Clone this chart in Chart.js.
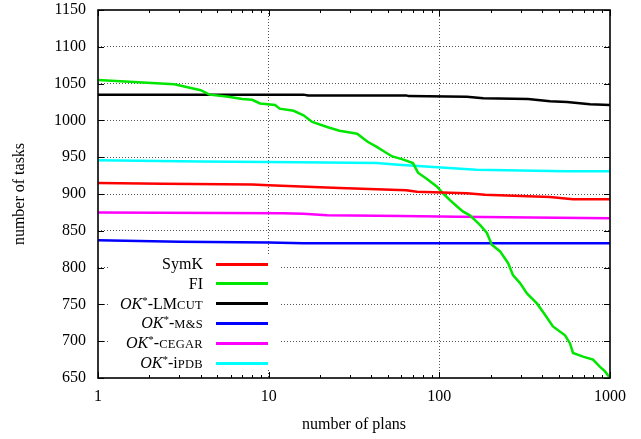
<!DOCTYPE html>
<html>
<head>
<meta charset="utf-8">
<script src="https://cdn.jsdelivr.net/npm/chart.js@4.4.1/dist/chart.umd.min.js"></script>
<style>
html, body { margin: 0; padding: 0; background: #fff; }
#wrap { position: relative; width: 641px; height: 439px; }
#key { position: absolute; left: 110px; top: 254px; width: 170px; height: 116px; background: #fff;
  font: 16px "Liberation Serif", serif; color: #000; }
#key .lbl { position: absolute; left: 0; width: 93px; text-align: right; line-height: 20px; white-space: nowrap; }
#key .smp { position: absolute; left: 106px; width: 52px; height: 3px; }
.sc { font-size: 12.5px; letter-spacing: 0.3px; }
sup { font-size: 11px; vertical-align: 5px; line-height: 0; }
</style>
</head>
<body>
<div id="wrap">
  <canvas id="plot" width="641" height="439"></canvas>
  <div id="key"></div>
</div>
<script>
// x = number of plans, y = number of tasks solved
var symkX = [1, 2.4, 8, 10, 16.8, 26, 64, 74, 145, 185, 331, 445, 606, 1000];
var symkY = [915, 914, 913, 912, 910, 908, 905, 903, 901, 899, 897, 896, 893, 893];

var fiX = [1, 2.8, 4, 4.5, 5.8, 7, 8, 8.9, 10.9, 11.6, 14, 16, 18, 22, 26, 33, 38, 43, 48, 53,
  61, 70, 75, 85, 97, 105, 115, 127, 138, 151, 173, 190, 203, 227, 253, 270, 297, 326, 374,
  416, 463, 545, 583, 607, 695, 795, 874, 935, 1000];
var fiY = [1055, 1049, 1041, 1035, 1032, 1029, 1028, 1023, 1021, 1016, 1013, 1007, 998, 991, 986,
  982, 971, 964, 957, 951, 947, 942, 929, 920, 910, 901, 892, 883, 876, 871, 858, 847, 831, 822,
  806, 790, 779, 765, 751, 736, 720, 708, 697, 684, 679, 675, 665, 659, 650];

var lmcutX = [1, 16, 17, 64, 66, 145, 181, 331, 445, 560, 763, 1000];
var lmcutY = [1035, 1035, 1034, 1034, 1033, 1032, 1030, 1029, 1026, 1025, 1022, 1021];

var msX = [1, 3, 10, 16, 1000];
var msY = [837, 835, 834, 833, 833];

var cegarX = [1, 12, 16, 22, 60, 130, 350, 1000];
var cegarY = [875, 874, 873, 871, 870, 869, 868, 867];

var ipdbX = [1, 4, 15, 43, 55, 75, 120, 165, 300, 550, 1000];
var ipdbY = [946, 944, 943, 942, 940, 938, 935, 933, 932, 931, 931];

var seriesNames = ['SymK', 'FI', 'OK*-LMcut', 'OK*-M&S', 'OK*-CEGAR', 'OK*-iPDB'];
var seriesLabelsHtml = [
  'SymK',
  'FI',
  '<i>OK</i><sup>*</sup>-LM<span class="sc">CUT</span>',
  '<i>OK</i><sup>*</sup>-<span class="sc">M&amp;S</span>',
  '<i>OK</i><sup>*</sup>-<span class="sc">CEGAR</span>',
  '<i>OK</i><sup>*</sup>-i<span class="sc">PDB</span>'
];
var seriesColors = ['#ff0000', '#00e600', '#000000', '#0000ff', '#ff00ff', '#00ffff'];

var xMajor = [1, 10, 100, 1000];
var xMinor = [2, 3, 4, 5, 6, 7, 8, 9, 20, 30, 40, 50, 60, 70, 80, 90, 200, 300, 400, 500, 600, 700, 800, 900];
var yTicks = [650, 700, 750, 800, 850, 900, 950, 1000, 1050, 1100, 1150];

function pts(xs, ys) {
  return xs.map(function (x, i) { return { x: x, y: ys[i] }; });
}
var allX = [symkX, fiX, lmcutX, msX, cegarX, ipdbX];
var allY = [symkY, fiY, lmcutY, msY, cegarY, ipdbY];

var FONT = '"Liberation Serif", serif';

var frame = {
  id: 'frame',
  afterDatasetsDraw: function (chart) {
    var ctx = chart.ctx, a = chart.chartArea, sx = chart.scales.x, sy = chart.scales.y;
    ctx.save();
    ctx.strokeStyle = '#000';
    ctx.lineWidth = 1;
    ctx.beginPath();
    xMajor.concat(xMinor).forEach(function (v) {
      var px = Math.round(sx.getPixelForValue(v)) + 0.5;
      var len = xMajor.indexOf(v) >= 0 ? 6 : 3;
      ctx.moveTo(px, a.bottom); ctx.lineTo(px, a.bottom - len);
      ctx.moveTo(px, a.top); ctx.lineTo(px, a.top + len);
    });
    yTicks.forEach(function (v) {
      var py = Math.round(sy.getPixelForValue(v)) + 0.5;
      ctx.moveTo(a.left, py); ctx.lineTo(a.left + 6, py);
      ctx.moveTo(a.right, py); ctx.lineTo(a.right - 6, py);
    });
    ctx.stroke();
    ctx.lineWidth = 1.6;
    ctx.strokeRect(a.left, a.top, a.right - a.left, a.bottom - a.top);
    ctx.restore();
  }
};

var chart = new Chart(document.getElementById('plot').getContext('2d'), {
  type: 'line',
  data: {
    datasets: seriesNames.map(function (name, i) {
      return {
        label: name,
        data: pts(allX[i], allY[i]),
        borderColor: seriesColors[i],
        backgroundColor: seriesColors[i],
        borderWidth: 2.5,
        pointRadius: 0,
        tension: 0,
        fill: false
      };
    })
  },
  options: {
    responsive: false,
    animation: false,
    layout: { padding: { left: 0, top: 10, right: 31, bottom: 0 } },
    plugins: { legend: { display: false }, tooltip: { enabled: false } },
    scales: {
      x: {
        type: 'logarithmic',
        min: 1,
        max: 1000,
        afterBuildTicks: function (scale) {
          scale.ticks = xMajor.concat(xMinor).sort(function (a, b) { return a - b; })
            .map(function (v) { return { value: v }; });
        },
        afterFit: function (scale) {
          scale.height = 61;
          scale.paddingLeft = 0; scale.paddingRight = 0;
        },
        ticks: {
          autoSkip: false,
          maxRotation: 0,
          padding: 9,
          color: '#000',
          font: { family: FONT, size: 16 },
          callback: function (v) { return xMajor.indexOf(v) >= 0 ? String(v) : ''; }
        },
        grid: {
          drawTicks: false,
          lineWidth: 1,
          color: function (c) {
            return c.tick && (c.tick.value === 10 || c.tick.value === 100) ? '#555' : 'rgba(0,0,0,0)';
          }
        },
        border: { display: false, dash: [1, 2] },
        title: {
          display: true,
          text: 'number of plans',
          color: '#000',
          font: { family: FONT, size: 16 },
          padding: { top: 0, bottom: 5 }
        }
      },
      y: {
        min: 650,
        max: 1150,
        afterBuildTicks: function (scale) {
          scale.ticks = yTicks.map(function (v) { return { value: v }; });
        },
        afterFit: function (scale) {
          scale.width = 98;
          scale.paddingTop = 0; scale.paddingBottom = 0;
        },
        ticks: {
          padding: 12,
          color: '#000',
          font: { family: FONT, size: 16 },
          callback: function (v) { return String(v); }
        },
        grid: {
          drawTicks: false,
          lineWidth: 1,
          color: function (c) {
            return c.tick && c.tick.value > 650 && c.tick.value < 1150 ? '#555' : 'rgba(0,0,0,0)';
          }
        },
        border: { display: false, dash: [1, 2] },
        title: {
          display: true,
          text: 'number of tasks',
          color: '#000',
          font: { family: FONT, size: 16 },
          padding: { top: 10, bottom: 0 }
        }
      }
    }
  },
  plugins: [frame]
});

// key box (gnuplot style: label right-aligned, line sample to the right)
var key = document.getElementById('key');
seriesLabelsHtml.forEach(function (html, i) {
  var cy = 10 + i * 19.8;
  var lbl = document.createElement('div');
  lbl.className = 'lbl';
  lbl.style.top = (cy - 10) + 'px';
  lbl.innerHTML = html;
  key.appendChild(lbl);
  var smp = document.createElement('div');
  smp.className = 'smp';
  smp.style.top = (cy - 1.5) + 'px';
  smp.style.background = seriesColors[i];
  key.appendChild(smp);
});
</script>
</body>
</html>
